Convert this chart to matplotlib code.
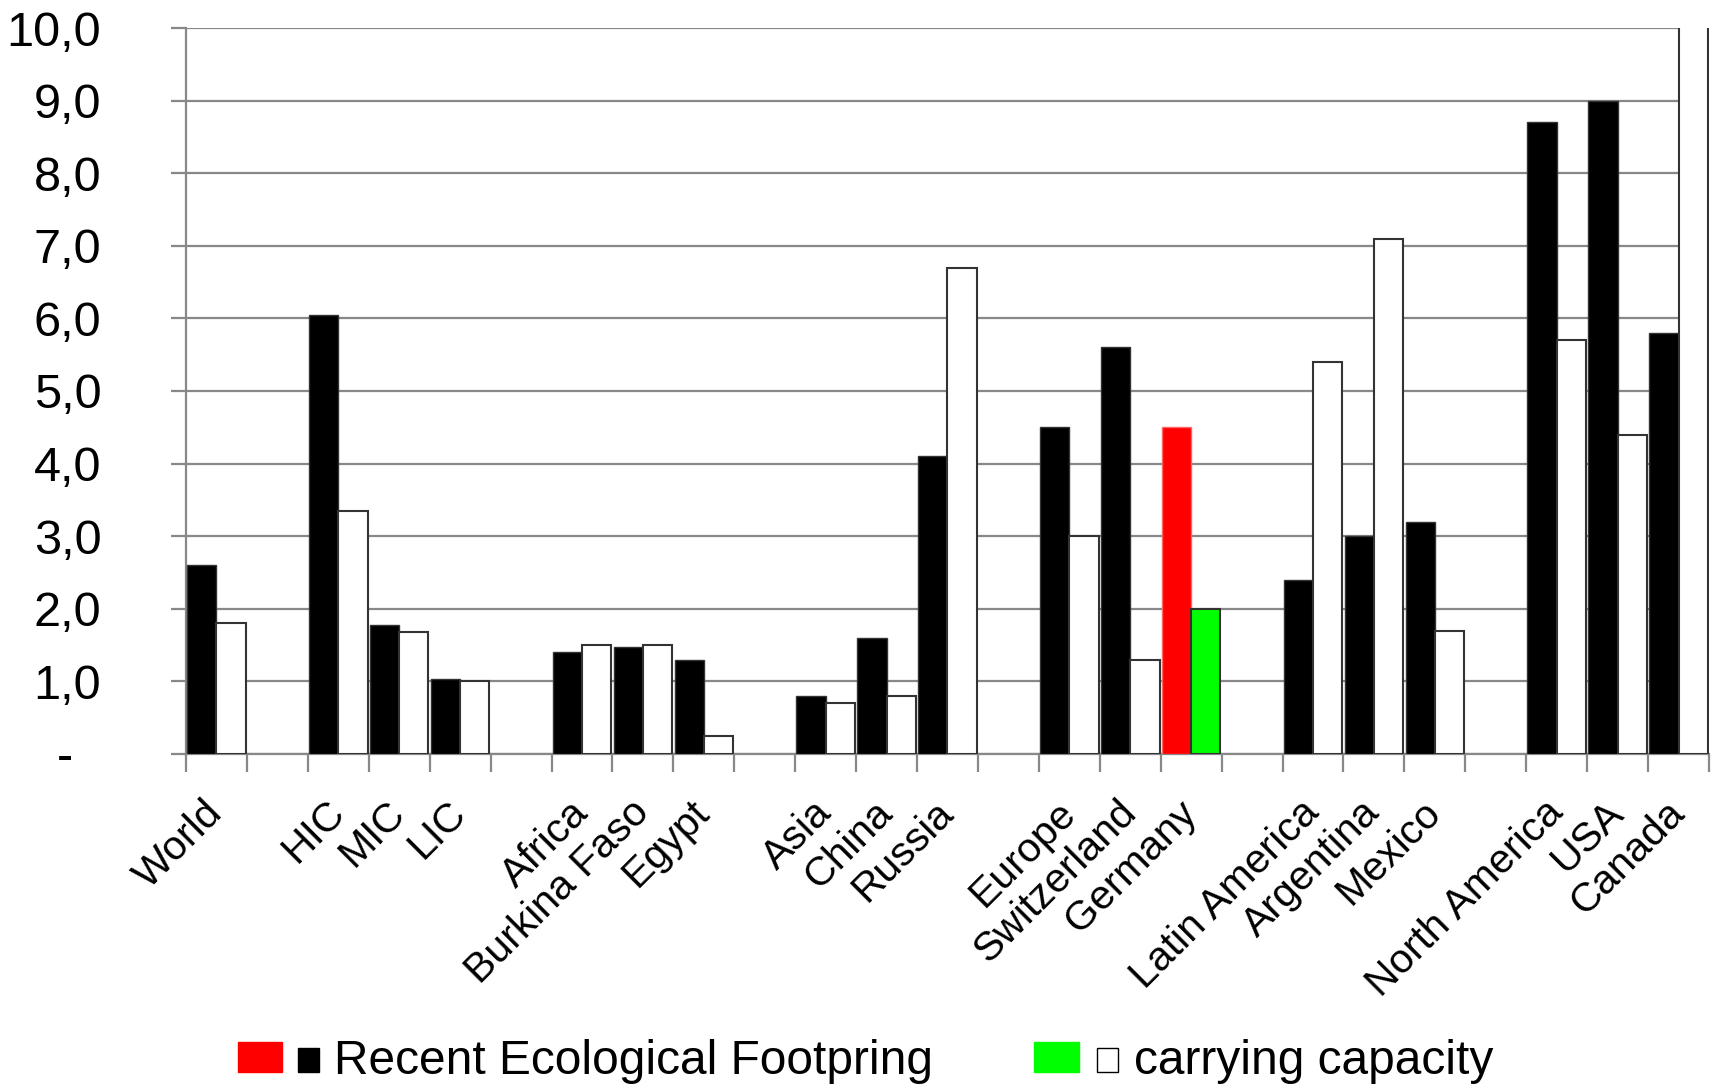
import numpy as np
import matplotlib
matplotlib.use("Agg")
import matplotlib.pyplot as plt
from matplotlib.patches import Rectangle
import matplotlib.transforms as mtransforms

plt.rcParams['font.family'] = ['Liberation Sans', 'DejaVu Sans']

categories = ["World", "", "HIC", "MIC", "LIC", "", "Africa", "Burkina Faso", "Egypt", "",
              "Asia", "China", "Russia", "", "Europe", "Switzerland", "Germany", "",
              "Latin America", "Argentina", "Mexico", "", "North America", "USA", "Canada"]
footprint = [2.6, np.nan, 6.05, 1.78, 1.03, np.nan, 1.4, 1.48, 1.3, np.nan,
             0.8, 1.6, 4.1, np.nan, 4.5, 5.6, 4.5, np.nan,
             2.4, 3.0, 3.2, np.nan, 8.7, 9.0, 5.8]
capacity = [1.8, np.nan, 3.35, 1.68, 1.0, np.nan, 1.5, 1.5, 0.25, np.nan,
            0.7, 0.8, 6.7, np.nan, 3.0, 1.3, 2.0, np.nan,
            5.4, 7.1, 1.7, np.nan, 5.7, 4.4, 14.0]
highlight = "Germany"
yticks = [0, 1, 2, 3, 4, 5, 6, 7, 8, 9, 10]
ytick_labels = ["-", "1,0", "2,0", "3,0", "4,0", "5,0", "6,0", "7,0", "8,0", "9,0", "10,0"]
legend_labels = ["Recent Ecological Footpring", "carrying capacity"]

W, H = 1715, 1088
fig = plt.figure(figsize=(W / 100, H / 100), dpi=100)
ax = fig.add_axes([186 / W, 1 - 754 / H, (1709 - 186) / W, (754 - 28) / H])

n = len(categories)
x = np.arange(n)
fp_colors = ["#FF0000" if c == highlight else "black" for c in categories]
cap_colors = ["#00FF00" if c == highlight else "white" for c in categories]
fp_edges = ["#FF6666" if c == highlight else "#333333" for c in categories]

ax.bar(x + 0.02, footprint, width=0.48, align='edge', color=fp_colors,
       edgecolor=fp_edges, linewidth=1.0, zorder=3)
ax.bar(x + 0.5, capacity, width=0.48, align='edge', color=cap_colors,
       edgecolor="#333333", linewidth=1.5, zorder=3)

ax.set_xlim(0, n)
ax.set_ylim(0, 10)
ax.set_yticks(yticks)
ax.set_yticklabels(ytick_labels, fontsize=35)
ax.yaxis.grid(True, color="#888888", linewidth=1.6, zorder=0)
ax.set_axisbelow(True)
ax.tick_params(axis='y', length=11, width=1.6, color="#888888", pad=50)

# x: tick marks at slot boundaries, labels at slot centres
ax.set_xticks(np.arange(n + 1))
ax.set_xticklabels([])
ax.tick_params(axis='x', which='major', length=13, width=1.6, color="#888888")
ax.set_xticks(x + 0.5, minor=True)
ax.set_xticklabels(categories, minor=True, rotation=45, ha='right', va='center',
                   rotation_mode='anchor', fontsize=29.5)
ax.tick_params(axis='x', which='minor', length=0, pad=38)

for s in ['top', 'right']:
    ax.spines[s].set_visible(False)
ax.spines['left'].set_color("#888888")
ax.spines['left'].set_linewidth(1.6)
ax.spines['bottom'].set_color("#888888")
ax.spines['bottom'].set_linewidth(1.6)

# shift zero label "-" to the left like the reference
zl = ax.get_yticklabels()[0]
zl.set_transform(zl.get_transform() + mtransforms.ScaledTranslation(-28 / 100, 0, fig.dpi_scale_trans))

# legend drawn in figure pixel coordinates
def rect(x0, y0, x1, y1, fc, ec):
    fig.add_artist(Rectangle((x0 / W, 1 - y1 / H), (x1 - x0) / W, (y1 - y0) / H,
                             transform=fig.transFigure, facecolor=fc, edgecolor=ec, linewidth=1))

rect(238, 1042, 282, 1072, "#FF0000", "#FF0000")
rect(298, 1048, 319, 1072, "black", "black")
fig.text(334 / W, 1 - 1061 / H, legend_labels[0], fontsize=34.5, va='center', ha='left')
rect(1034, 1042, 1079, 1072, "#00FF00", "#00FF00")
rect(1097, 1048, 1118, 1072, "white", "black")
fig.text(1134 / W, 1 - 1061 / H, legend_labels[1], fontsize=34.5, va='center', ha='left')

fig.savefig("out.png", dpi=100)
